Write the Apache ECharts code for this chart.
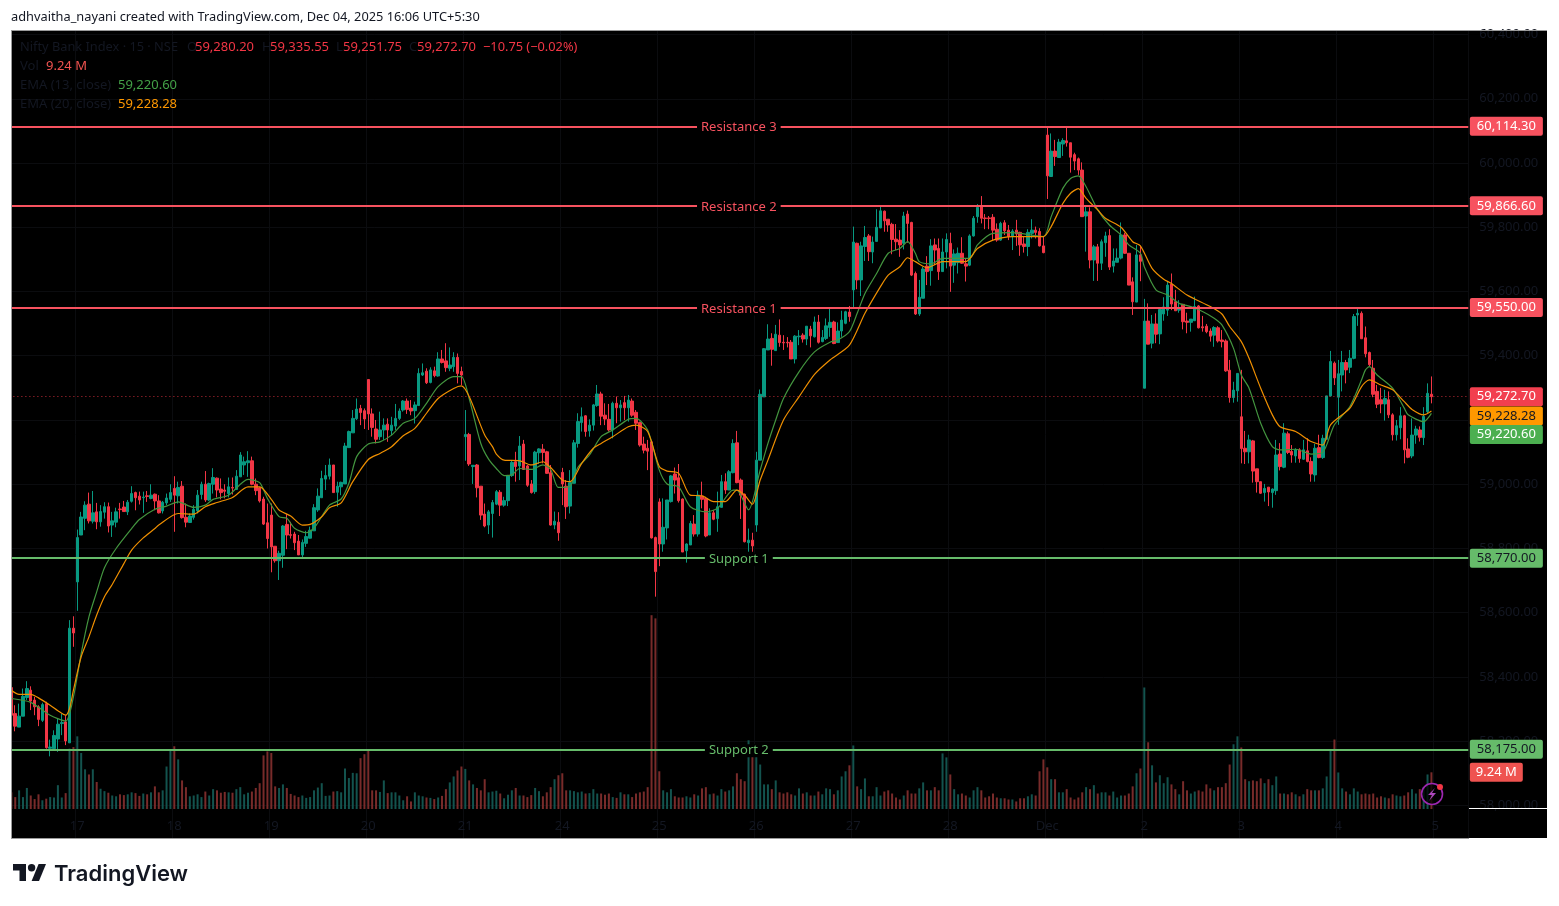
<!DOCTYPE html>
<html>
<head>
<meta charset="utf-8">
<title>Nifty Bank Index</title>
<script src="https://cdn.jsdelivr.net/npm/echarts@6/dist/echarts.min.js"></script>
<style>
  html, body { margin: 0; padding: 0; background: #fff; }
  #main { width: 1559px; height: 906px; }
</style>
</head>
<body>
<div id="main"></div>
<script>
// open, close, low, high for each 15 minute bar
const candles = [
[58367,58281,58281,58403],[58286,58247,58231,58312],[58244,58278,58244,58317],[58278,58340,58278,58364],[58336,58364,58328,58387],
[58359,58325,58297,58371],[58328,58307,58281,58338],[58307,58268,58247,58312],[58265,58314,58260,58320],[58317,58180,58177,58323],
[58178,58182,58153,58205],[58177,58218,58177,58234],[58207,58253,58167,58271],[58255,58258,58219,58286],[58260,58201,58188,58281],
[58195,58552,58195,58577],[58552,58537,58494,58589],
// 17
[58696,58834,58606,58859],[58842,58898,58842,58914],[58894,58935,58857,58947],[58938,58886,58878,58974],[58885,58911,58878,58979],
[58914,58883,58860,58942],[58883,58915,58868,58935],[58913,58930,58893,58944],[58930,58870,58850,58943],[58873,58886,58836,58914],
[58882,58914,58866,58927],[58923,58921,58893,58942],[58929,58915,58914,58948],[58914,58944,58904,58951],[58947,58971,58943,58994],
[58974,58958,58919,58977],[58963,58951,58937,58977],[58958,58960,58911,58977],[58964,58962,58945,58979],[58956,58966,58953,59000],
[58969,58948,58919,58971],[58948,58911,58909,58966],[58917,58944,58909,58948],[58942,58957,58935,58971],[58953,58974,58945,59000],
// 18
[58987,58966,58852,59025],[58964,58990,58940,59008],[58994,58896,58893,59010],[58897,58882,58866,58940],[58881,58901,58880,58909],
[58897,58922,58890,58935],[58917,58966,58909,58982],[58968,59000,58953,59008],[59000,58951,58945,59041],[58951,59002,58948,59005],
[59000,59021,58971,59050],[59019,58982,58959,59021],[58985,58974,58953,59018],[58982,58978,58956,59000],[58971,58992,58959,59021],
[58990,58988,58968,59021],[58984,59025,58982,59044],[59023,59091,59023,59100],[59060,59070,59029,59086],[59067,59073,59023,59103],
[59073,59000,58997,59086],[59000,58980,58966,59018],[58989,58948,58943,58992],[58954,58876,58873,58961],[58880,58831,58800,58940],
// 19
[58904,58805,58726,58940],[58807,58762,58756,58807],[58762,58785,58702,58793],[58779,58870,58740,58873],[58875,58842,58798,58907],
[58843,58841,58831,58883],[58845,58818,58795,58852],[58823,58780,58780,58842],[58780,58819,58769,58828],[58816,58837,58805,58855],
[58832,58857,58831,58868],[58855,58927,58855,58938],[58920,58963,58914,58987],[58958,59018,58958,59042],[59016,59027,58982,59060],
[59025,59060,59015,59080],[59060,58974,58974,59060],[58975,58994,58930,59008],[58992,59006,58966,59008],[59001,59119,59001,59129],
[59114,59164,59114,59167],[59160,59205,59160,59231],[59204,59234,59200,59267],[59236,59223,59184,59247],[59229,59203,59172,59236],
// 20
[59326,59219,59169,59326],[59219,59177,59148,59236],[59172,59140,59127,59200],[59148,59169,59138,59226],[59169,59184,59138,59205],
[59187,59169,59132,59205],[59167,59184,59153,59210],[59181,59205,59169,59250],[59205,59228,59200,59236],[59231,59259,59226,59262],
[59259,59233,59219,59267],[59237,59228,59215,59262],[59229,59247,59189,59257],[59245,59345,59245,59361],[59340,59347,59337,59376],
[59352,59316,59312,59361],[59317,59356,59314,59364],[59353,59338,59333,59366],[59337,59390,59335,59411],[59390,59379,59376,59418],
[59384,59363,59350,59439],[59361,59371,59352,59426],[59366,59395,59350,59411],[59395,59345,59314,59407],[59351,59340,59309,59366],
// 21
[59148,59155,59073,59231],[59155,59063,59057,59160],[59055,59059,59001,59059],[59060,58989,58959,59063],[58994,58904,58889,58994],
[58907,58870,58866,58940],[58873,58914,58845,58920],[58909,58943,58834,58951],[58938,58977,58935,58982],[58975,58935,58901,58982],
[58935,58949,58930,58961],[58949,59027,58932,59029],[59027,59068,59023,59075],[59070,59055,59008,59101],[59057,59119,59013,59150],
[59125,59046,59046,59138],[59057,58997,58992,59060],[59001,58974,58971,59013],[58977,59100,58970,59104],[59098,59110,59063,59112],
[59109,59099,59065,59125],[59101,59034,59032,59104],[59036,58873,58871,59060],[58873,58885,58860,58915],[58882,58849,58824,58913],
// 24
[59037,59001,58935,59051],[58994,58930,58892,59013],[58932,59005,58909,59044],[59003,59129,59003,59138],[59127,59195,59114,59221],
[59192,59210,59164,59239],[59213,59164,59148,59215],[59166,59184,59148,59202],[59184,59247,59167,59250],[59245,59281,59241,59309],
[59281,59212,59184,59288],[59215,59203,59184,59252],[59202,59169,59164,59250],[59169,59252,59143,59257],[59252,59238,59190,59273],
[59238,59247,59195,59262],[59254,59238,59200,59275],[59238,59262,59195,59278],[59259,59215,59210,59267],[59224,59190,59169,59231],
[59192,59122,59117,59195],[59125,59106,59096,59148],[59112,59103,59044,59138],[59132,58833,58831,59138],[58834,58728,58650,58837],
// 25
[58945,58814,58745,58956],[58814,58866,58790,58956],[58864,58951,58828,58951],[58946,59026,58943,59029],[59032,59013,58971,59052],
[59020,58949,58943,59063],[58954,58789,58789,58956],[58793,58814,58756,58816],[58811,58878,58811,58886],[58876,58845,58837,58904],
[58845,58966,58837,58980],[58963,58953,58925,59008],[58956,58839,58835,58961],[58842,58911,58842,58925],[58911,58891,58888,58920],
[58893,58930,58852,58977],[58928,59008,58928,59029],[59008,58982,58970,59034],[58982,59039,58982,59044],[59036,59127,59034,59140],
[59129,59005,59003,59166],[59013,58966,58892,59018],[58969,58821,58819,58971],[58818,58826,58790,58862],[58826,58808,58790,58849],
// 26
[58873,59075,58852,59101],[59075,59280,59075,59295],[59272,59422,59272,59424],[59418,59452,59418,59498],[59454,59420,59369,59470],
[59416,59467,59416,59496],[59464,59441,59428,59513],[59442,59440,59418,59464],[59442,59440,59426,59458],[59442,59390,59390,59449],
[59390,59461,59376,59464],[59459,59461,59433,59480],[59464,59452,59441,59470],[59452,59492,59433,59492],[59483,59462,59426,59493],
[59459,59505,59457,59522],[59505,59442,59438,59527],[59444,59457,59442,59480],[59454,59493,59449,59516],[59488,59504,59459,59551],
[59505,59438,59436,59509],[59441,59477,59441,59504],[59477,59511,59459,59540],[59501,59537,59498,59540],[59536,59522,59506,59555],
// 27
[59605,59754,59551,59802],[59750,59636,59607,59752],[59636,59742,59586,59755],[59740,59768,59695,59804],[59773,59724,59695,59779],
[59723,59754,59688,59771],[59756,59800,59755,59856],[59798,59851,59797,59866],[59850,59820,59786,59852],[59825,59807,59786,59825],
[59809,59762,59716,59814],[59763,59755,59729,59810],[59760,59745,59708,59791],[59750,59835,59731,59848],[59841,59812,59752,59852],
[59815,59651,59648,59817],[59656,59530,59527,59662],[59530,59582,59524,59636],[59579,59670,59579,59677],[59679,59662,59620,59710],
[59665,59742,59618,59763],[59745,59729,59682,59765],[59734,59662,59636,59765],[59662,59723,59662,59765],[59723,59762,59672,59781],
// 28
[59750,59679,59599,59783],[59682,59717,59627,59731],[59690,59719,59656,59737],[59719,59688,59686,59769],[59686,59679,59631,59703],
[59682,59773,59679,59778],[59773,59828,59771,59835],[59833,59862,59814,59872],[59866,59828,59812,59897],[59829,59827,59794,59841],
[59829,59827,59794,59835],[59831,59791,59760,59841],[59794,59760,59755,59812],[59760,59812,59758,59817],[59814,59789,59776,59822],
[59791,59771,59760,59807],[59773,59788,59729,59794],[59791,59779,59742,59823],[59784,59745,59711,59786],[59748,59740,59721,59771],
[59740,59784,59710,59794],[59781,59791,59765,59825],[59791,59784,59765,59802],[59787,59742,59740,59797],[59742,59721,59719,59771],
// Dec
[60087,59960,59888,60113],[59958,60037,59958,60092],[60037,60020,59991,60072],[60017,60065,60017,60075],[60059,60070,60022,60077],
[60069,60063,60051,60113],[60063,60018,59970,60063],[60026,60006,59978,60032],[60013,59978,59963,60017],[59978,59833,59833,60002],
[59835,59848,59724,59869],[59848,59698,59672,59862],[59698,59739,59633,59745],[59739,59688,59633,59748],[59688,59755,59667,59762],
[59752,59773,59708,59786],[59774,59676,59667,59794],[59679,59695,59659,59734],[59691,59704,59691,59734],[59704,59776,59700,59815],
[59776,59719,59717,59783],[59719,59620,59620,59719],[59630,59568,59527,59644],[59567,59714,59567,59745],[59714,59694,59632,59742],
// 2
[59299,59508,59299,59577],[59508,59436,59436,59563],[59439,59499,59423,59527],[59499,59467,59439,59532],[59468,59544,59436,59551],
[59530,59552,59509,59582],[59542,59620,59524,59631],[59623,59561,59542,59656],[59568,59540,59540,59605],[59542,59548,59534,59573],
[59560,59506,59482,59560],[59508,59504,59470,59534],[59504,59514,59475,59514],[59509,59553,59508,59584],[59555,59487,59485,59558],
[59490,59487,59475,59524],[59492,59475,59470,59499],[59477,59461,59444,59485],[59464,59488,59428,59492],[59487,59446,59441,59492],
[59449,59444,59426,59480],[59446,59353,59350,59451],[59355,59270,59254,59387],[59270,59293,59254,59319],[59291,59345,59257,59345],
// 3
[59210,59111,59065,59356],[59112,59101,59063,59166],[59101,59138,59065,59154],[59135,59041,59005,59138],[59048,59008,58974,59048],
[59008,58972,58970,59008],[58974,58987,58946,59001],[58991,58976,58932,58991],[58974,58985,58927,58987],[58980,59091,58967,59138],
[59094,59055,59043,59128],[59053,59159,59050,59190],[59157,59099,59094,59164],[59102,59091,59067,59122],[59088,59107,59067,59112],
[59107,59080,59067,59112],[59078,59107,59076,59138],[59104,59071,59068,59143],[59071,59032,59008,59084],[59029,59112,59008,59126],
[59114,59083,59081,59154],[59083,59143,59079,59154],[59140,59275,59140,59275],[59275,59382,59273,59415],[59377,59331,59309,59382],
// 4
[59271,59344,59185,59387],[59340,59379,59289,59415],[59379,59356,59314,59387],[59364,59392,59346,59418],[59392,59522,59389,59530],
[59527,59532,59493,59551],[59532,59453,59452,59538],[59456,59406,59395,59491],[59410,59372,59368,59413],[59361,59280,59271,59387],
[59289,59249,59237,59309],[59263,59250,59221,59300],[59250,59267,59198,59294],[59263,59216,59206,59289],[59216,59154,59136,59221],
[59154,59182,59136,59200],[59176,59213,59140,59240],[59213,59107,59065,59216],[59110,59084,59081,59143],[59088,59153,59081,59205],
[59153,59172,59126,59182],[59169,59146,59133,59180],[59145,59211,59122,59240],[59226,59283,59221,59314],[59280.2,59272.7,59251.75,59335.55]
];

// volume in millions, same order as candles
const volumes = [
4.2,3.0,4.7,3.0,5.3,3.4,2.5,3.7,2.2,2.6,3.0,2.9,6.0,2.9,4.0,15.2,15.6,18.3,14.1,10.0,8.7,10.0,6.8,5.1,4.5,4.1,3.4,3.2,3.7,3.5,3.7,4.2,4.0,3.3,3.9,3.7,4.2,5.7,4.2,4.7,
10.7,14.6,15.8,12.5,7.2,5.5,3.2,3.4,3.7,3.0,4.4,3.4,5.0,4.7,4.1,4.3,4.2,4.1,5.0,5.5,3.7,4.1,4.4,5.3,6.5,13.5,14.5,14.1,5.7,5.3,6.2,5.3,3.8,3.4,3.0,3.4,2.8,3.0,4.7,5.4,
6.5,3.3,3.4,4.4,4.5,4.2,10.2,7.8,9.1,9.0,12.8,13.8,14.9,4.7,4.7,4.3,7.2,4.0,4.2,4.2,3.4,2.2,3.2,1.9,4.2,3.4,3.2,2.9,2.8,2.5,2.9,3.3,5.0,6.7,8.2,9.7,10.7,10.1,7.2,6.2,
5.3,4.7,7.5,4.2,4.4,4.6,3.9,2.7,3.6,4.7,5.3,3.4,3.4,3.0,3.5,5.3,4.5,3.2,4.2,5.5,7.5,8.5,9.0,4.7,4.7,4.5,4.2,4.4,3.9,4.0,5.0,3.9,3.9,3.6,3.9,3.0,2.8,4.2,3.7,3.7,
3.0,3.9,4.2,4.4,5.5,48.8,48.0,9.5,4.7,4.2,5.0,3.2,2.9,2.9,3.2,2.9,3.7,3.4,5.2,5.5,3.7,3.9,3.4,5.0,4.4,4.7,5.7,9.0,7.5,7.0,17.3,14.5,13.8,11.2,6.2,6.2,5.0,7.2,4.2,3.9,
4.2,3.7,3.4,5.2,3.9,4.2,3.4,3.4,4.4,3.7,5.2,5.0,3.7,4.7,8.2,9.5,11.0,16.0,5.7,5.0,7.7,3.2,3.2,5.5,3.4,4.4,4.7,3.9,2.9,2.4,3.4,4.7,3.9,3.9,5.2,6.7,4.7,4.7,5.5,4.7,
14.0,13.0,8.7,5.0,3.7,3.9,3.4,2.9,4.7,5.5,4.7,2.9,3.2,3.9,2.9,2.7,2.7,2.4,2.4,1.9,2.7,2.7,3.2,3.7,3.4,9.5,12.5,10.5,7.5,7.5,4.2,4.2,5.0,2.9,2.4,2.9,4.2,5.5,5.0,6.0,
3.9,4.2,4.2,3.4,4.4,2.9,3.4,3.4,3.9,5.7,9.0,10.2,30.6,16.8,11.0,6.7,8.5,6.5,8.0,6.2,5.0,3.7,7.0,4.7,3.9,4.4,4.7,4.4,6.2,5.2,4.7,5.5,5.5,6.5,11.2,16.3,18.3,15.5,7.5,7.0,
7.2,7.0,7.7,6.5,7.5,6.0,8.2,3.9,3.9,3.7,4.2,3.7,3.2,3.7,5.0,4.7,4.7,4.7,5.2,8.2,15.0,17.5,9.2,5.2,4.4,3.7,5.2,4.4,3.7,3.9,3.7,3.9,2.9,3.2,2.9,2.7,3.7,3.4,3.2,3.4,
4.2,5.0,3.9,5.0,5.5,8.7,9.24
];

// [bar number, price]
const ema13 = [
[0,58333],[5,58321],[10,58281],[14,58263],[16,58338],[18,58473],[20,58587],[22,58665],[24,58740],[27,58800],[31,58862],[33,58890],[37,58922],[40,58932],[43,58945],[47,58928],
[50,58935],[52,58953],[56,58966],[61,59015],[64,59005],[66,58956],[69,58899],[71,58894],[73,58863],[76,58849],[78,58863],[82,58935],[85,58954],[87,59003],[89,59086],[92,59125],
[95,59132],[98,59153],[101,59190],[104,59205],[107,59252],[110,59304],[114,59335],[116,59335],[118,59267],[121,59127],[123,59078],[125,59049],[127,59027],[129,59029],[131,59049],[134,59046],
[137,59060],[139,59046],[141,58990],[144,58994],[146,59052],[149,59091],[152,59148],[155,59169],[159,59202],[161,59205],[164,59169],[167,59044],[169,59001],[172,58992],[175,58930],[179,58914],
[182,58925],[186,58982],[187,58982],[190,58920],[193,59044],[195,59127],[197,59200],[199,59267],[203,59350],[207,59412],[211,59442],[213,59449],[216,59475],[218,59532],[220,59594],[223,59656],
[226,59719],[229,59734],[231,59755],[233,59719],[234,59693],[237,59686],[240,59703],[247,59703],[249,59745],[253,59781],[258,59783],[266,59771],[268,59833],[271,59921],[273,59952],[275,59960],
[277,59926],[280,59854],[283,59807],[286,59776],[288,59745],[291,59719],[292,59677],[295,59605],[298,59589],[301,59563],[304,59553],[307,59538],[310,59517],[312,59496],[315,59423],[317,59340],
[319,59299],[322,59190],[325,59117],[327,59107],[331,59109],[335,59094],[338,59099],[341,59185],[345,59242],[348,59325],[349,59356],[350,59366],[352,59340],[356,59299],[359,59237],[360,59216],
[364,59195],[366,59220.6]
];
const ema20 = [
[0,58359],[2,58346],[5,58346],[7,58335],[10,58312],[12,58295],[14,58281],[15,58302],[16,58359],[18,58463],[20,58525],[22,58593],[24,58650],[26,58688],[29,58753],[31,58795],
[34,58833],[37,58862],[38,58873],[43,58909],[47,58907],[50,58930],[53,58943],[57,58959],[61,58992],[64,58992],[67,58953],[69,58920],[72,58901],[75,58873],[77,58875],[80,58899],
[82,58927],[85,58942],[88,59008],[92,59077],[95,59096],[98,59117],[101,59151],[104,59174],[107,59221],[110,59267],[114,59298],[116,59306],[118,59273],[122,59153],[124,59117],[125,59094],
[127,59075],[131,59073],[134,59060],[137,59070],[139,59052],[142,59013],[144,59008],[147,59065],[150,59112],[152,59127],[155,59148],[159,59179],[161,59184],[164,59164],[167,59055],[169,59041],
[172,59034],[175,58966],[178,58964],[181,58946],[184,58946],[187,58982],[189,58966],[191,58938],[193,59013],[195,59075],[199,59200],[203,59272],[207,59342],[211,59387],[216,59433],[220,59532],
[224,59615],[226,59651],[229,59677],[231,59705],[233,59693],[236,59674],[240,59693],[246,59693],[249,59734],[253,59760],[258,59771],[266,59771],[268,59802],[271,59874],[273,59906],[275,59920],
[277,59890],[280,59854],[282,59828],[286,59800],[289,59755],[291,59742],[294,59672],[297,59638],[299,59625],[303,59589],[309,59553],[312,59530],[314,59491],[317,59444],[319,59392],[322,59299],
[325,59216],[327,59179],[331,59164],[335,59133],[338,59122],[340,59185],[345,59237],[348,59304],[350,59325],[353,59309],[356,59294],[359,59257],[361,59233],[364,59216],[366,59228.28]
];

const priceTicks = [58000,58200,58400,58600,58800,59000,59200,59400,59600,59800,60000,60200,60400];
const dayBars = [17,42,67,92,117,142,167,192,217,242,267,292,317,342,367];
const dayLabels = ['17','18','19','20','21','24','25','26','27','28','Dec','2','3','4','5'];
const levelNames = ['Resistance 3','Resistance 2','Resistance 1','Support 1','Support 2'];
const levelPrices = [60114.3,59866.6,59550,58770,58175];
const lastPrice = 59272.7;

const RED = '#f7525f', GREEN = '#66bb6a';
const BAR_COUNT = 376; // leaves the empty bars to the right of the last candle
const fmt = v => v.toLocaleString('en-US', { minimumFractionDigits: 2, maximumFractionDigits: 2 });
const FONT = '"Noto Sans", sans-serif';

const categories = Array.from({ length: BAR_COUNT }, (_, i) => {
  const k = dayBars.indexOf(i);
  return k >= 0 ? dayLabels[k] : '';
});

const volumeBars = volumes.map((v, i) => ({
  value: v,
  itemStyle: { color: candles[i][1] >= candles[i][0] ? '#13534e' : '#782b2a' }
}));

// tags in the price scale, the ema ones are pushed down so they dont overlap
const tag = (value, bg, fg, dy) => ({
  value: [BAR_COUNT - 1, value],
  label: {
    show: true, position: 'right', distance: 3, offset: [0, dy],
    formatter: fmt(value), color: fg, backgroundColor: bg, opacity: 1,
    padding: [3, 7, 3, 7], borderRadius: 2, fontSize: 13, fontFamily: FONT
  }
});
const priceTags = [
  tag(levelPrices[0], RED, '#fff', 0),
  tag(levelPrices[1], RED, '#fff', 0),
  tag(levelPrices[2], RED, '#fff', 0),
  tag(lastPrice, '#f23f4f', '#fff', 0),
  tag(59228.28, '#ff9800', '#131722', 5),
  tag(59220.6, '#4caf50', '#fff', 21),
  tag(levelPrices[3], GREEN, '#131722', 0),
  tag(levelPrices[4], GREEN, '#131722', 0)
];

const levelLines = levelNames.map((name, i) => {
  const c = i < 3 ? RED : GREEN;
  return {
    name: name, yAxis: levelPrices[i],
    lineStyle: { color: c, width: 2, type: 'solid' },
    label: {
      show: true, position: 'middle', offset: [0, 13], formatter: name, color: c, fontSize: 13, fontFamily: FONT,
      backgroundColor: '#000', padding: [0, 4, 0, 4]
    }
  };
});
levelLines.push({
  yAxis: lastPrice,
  lineStyle: { color: '#f23645', width: 1, type: [1, 3], opacity: 0.8 },
  label: { show: false }
});

const txt = (x, y, s, color, size) => ({
  type: 'text', x: x, y: y + 1, z: 60,
  style: { text: s, fill: color, font: (size || 13) + 'px ' + FONT, textVerticalAlign: 'middle' }
});
const DIM = '#131722';

const chart = echarts.init(document.getElementById('main'), null, { renderer: 'canvas' });
chart.setOption({
  animation: false,
  backgroundColor: '#fff',
  grid: { left: 9.4, top: 31, width: 3.88 * BAR_COUNT, height: 807, containLabel: false },
  xAxis: {
    type: 'category', data: categories, boundaryGap: true,
    axisLine: { show: false }, axisTick: { show: false, alignWithLabel: true },
    axisLabel: { show: true, interval: 0, inside: true, margin: 5, color: DIM, fontSize: 13, fontFamily: FONT, hideOverlap: false },
    splitLine: { show: true, interval: i => categories[i] !== '', lineStyle: { color: '#0b0c0f', width: 1 } }
  },
  yAxis: [{
    type: 'value', position: 'right', scale: true, min: 57898.8, max: 60410.9,
    axisLine: { show: false },
    axisTick: { show: false, customValues: priceTicks },
    axisLabel: {
      customValues: priceTicks, formatter: fmt, margin: 11, color: DIM, fontSize: 13, fontFamily: FONT,
      padding: [4, 0, 0, 0], verticalAlign: 'middle', verticalAlignMaxLabel: 'middle', verticalAlignMinLabel: 'middle'
    },
    splitLine: { show: true, lineStyle: { color: '#0b0c0f', width: 1 } }
  }, {
    // volume overlay, 0 sits just above the time labels
    type: 'value', show: false, min: -7.3, max: 195.9, splitLine: { show: false }
  }],
  series: [{
    name: 'Vol', type: 'bar', yAxisIndex: 1, data: volumeBars, barWidth: 2, silent: true
  }, {
    name: 'Nifty Bank Index', type: 'candlestick', data: candles, barWidth: 3, silent: true,
    itemStyle: { color: '#089981', color0: '#f23645', borderColor: '#089981', borderColor0: '#f23645', borderWidth: 1 },
    markLine: { silent: true, symbol: 'none', animation: false, data: levelLines }
  }, {
    name: 'EMA 13', type: 'line', data: ema13, showSymbol: false, smooth: 0.25, silent: true,
    lineStyle: { color: '#43953f', width: 1.2 }
  }, {
    name: 'EMA 20', type: 'line', data: ema20, showSymbol: false, smooth: 0.25, silent: true,
    lineStyle: { color: '#ef8f00', width: 1.2 }
  }, {
    name: 'price tags', type: 'scatter', data: priceTags, symbolSize: 1, itemStyle: { color: 'transparent', opacity: 1 }, silent: true, z: 10
  }, {
    name: 'volume tag', type: 'scatter', yAxisIndex: 1, symbolSize: 1, itemStyle: { color: 'transparent', opacity: 1 }, silent: true, z: 10,
    data: [{
      value: [BAR_COUNT - 1, 9.24],
      label: {
        show: true, position: 'right', distance: 3, formatter: '9.24 M', color: '#fff', backgroundColor: '#ef5350', opacity: 1,
        padding: [3, 6, 3, 6], borderRadius: 2, fontSize: 13, fontFamily: FONT
      }
    }]
  }],
  graphic: [
    { type: 'rect', z: -10, shape: { x: 12, y: 31, width: 1535, height: 807 }, style: { fill: '#000' } },
    { type: 'rect', z: 50, shape: { x: 0, y: 30, width: 11, height: 810 }, style: { fill: '#fff' } },
    { type: 'rect', z: 51, shape: { x: 11, y: 30, width: 1536, height: 1 }, style: { fill: '#9a9a9a' } },
    { type: 'rect', z: 51, shape: { x: 11, y: 30, width: 1, height: 809 }, style: { fill: '#9a9a9a' } },
    { type: 'rect', z: 51, shape: { x: 11, y: 838, width: 1458, height: 1 }, style: { fill: '#9a9a9a' } },
    { type: 'rect', z: 51, shape: { x: 1469, y: 808, width: 78, height: 1 }, style: { fill: '#fff' } },

    txt(11, 16, 'adhvaitha_nayani created with TradingView.com, Dec 04, 2025 16:06 UTC+5:30', '#131722', 12.8),
    txt(20, 46, 'Nifty Bank Index · 15 · NSE', DIM, 12.8),
    txt(187, 46, 'O', DIM), txt(195, 46, '59,280.20', '#f23645'),
    txt(262, 46, 'H', DIM), txt(270, 46, '59,335.55', '#f23645'),
    txt(336, 46, 'L', DIM), txt(343, 46, '59,251.75', '#f23645'),
    txt(409, 46, 'C', DIM), txt(417, 46, '59,272.70', '#f23645'),
    txt(483, 46, '−10.75 (−0.02%)', '#f23645', 12.8),
    txt(20, 65, 'Vol', DIM), txt(46, 65, '9.24 M', '#ef5350'),
    txt(20, 84, 'EMA (13, close)', DIM), txt(118, 84, '59,220.60', '#43a047'),
    txt(20, 103, 'EMA (20, close)', DIM), txt(118, 103, '59,228.28', '#ff9800'),

    // bolt badge
    { type: 'circle', z: 55, shape: { cx: 1432, cy: 794, r: 10.5 }, style: { fill: 'rgba(0,0,0,0.75)', stroke: '#9c27b0', lineWidth: 1.6 } },
    { type: 'polygon', z: 56, shape: { points: [[1435,788],[1428,795],[1432,795],[1429,801],[1436,793],[1432,793]] }, style: { fill: '#ab47bc' } },
    { type: 'circle', z: 57, shape: { cx: 1440, cy: 787, r: 3 }, style: { fill: '#f23645' } },

    // footer logo
    { type: 'polygon', z: 60, shape: { points: [[13,864],[26,864],[26,881],[19.5,881],[19.5,870.6],[13,870.6]] }, style: { fill: '#131722' } },
    { type: 'polygon', z: 60, shape: { points: [[39,881],[31.6,881],[38.6,864],[46,864]] }, style: { fill: '#131722' } },
    { type: 'circle', z: 60, shape: { cx: 31.6, cy: 867.8, r: 3.7 }, style: { fill: '#131722' } },
    { type: 'text', x: 54, y: 874, z: 60, style: { text: 'TradingView', fill: '#131722', font: '600 22px Inter, sans-serif', textVerticalAlign: 'middle' } }
  ]
});
</script>
</body>
</html>
